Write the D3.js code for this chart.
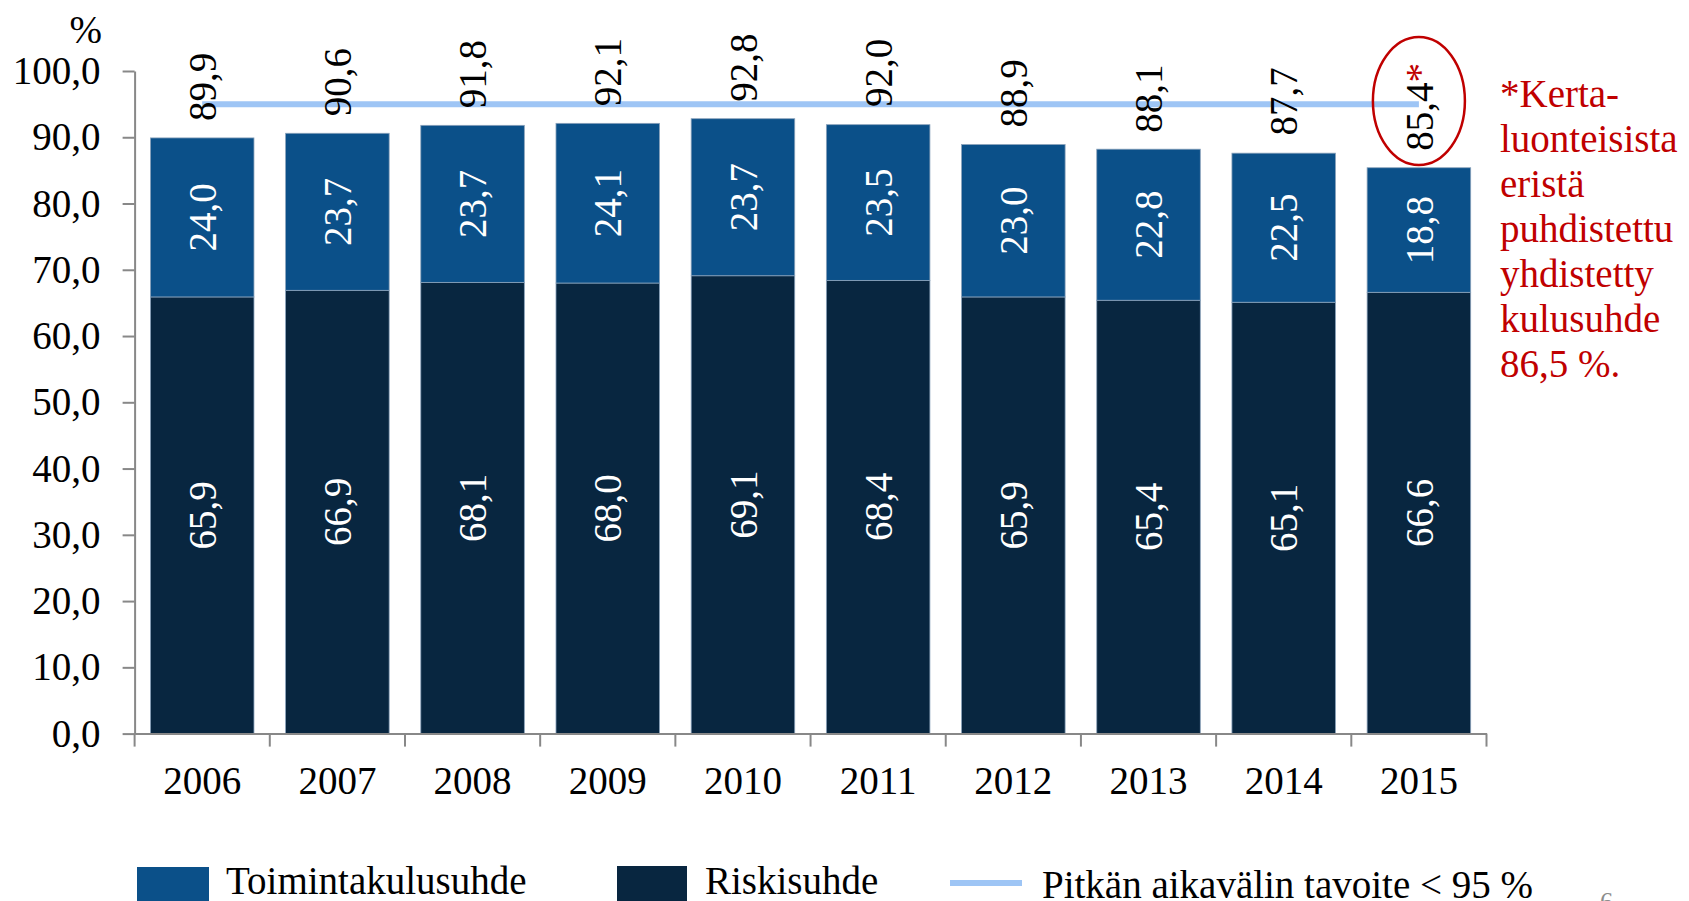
<!DOCTYPE html>
<html>
<head>
<meta charset="utf-8">
<script src="https://cdn.jsdelivr.net/npm/d3@7"></script>
<style>
    body { margin: 0; background: #fff; }
    text { font-family: "Liberation Serif", "DejaVu Serif", serif; }
</style>
</head>
<body>
<script>
// data
const years = ["2006", "2007", "2008", "2009", "2010", "2011", "2012", "2013", "2014", "2015"];
const riskisuhde = [65.9, 66.9, 68.1, 68.0, 69.1, 68.4, 65.9, 65.4, 65.1, 66.6];
const toimintakulusuhde = [24.0, 23.7, 23.7, 24.1, 23.7, 23.5, 23.0, 22.8, 22.5, 18.8];
const totals = [89.9, 90.6, 91.8, 92.1, 92.8, 92.0, 88.9, 88.1, 87.7, 85.4];
const target = 95;
const yTicks = [0, 10, 20, 30, 40, 50, 60, 70, 80, 90, 100];
const noteLines = ["*Kerta-", "luonteisista", "eristä", "puhdistettu", "yhdistetty", "kulusuhde", "86,5 %."];

const colors = {
    riski: "#082640",
    toiminta: "#0B5089",
    target: "#9EC5F5",
    red: "#C00000",
    axis: "#888888"
}

const width = 1689, height = 901;
const fontSize = 39;

const svg = d3.select("body").append("svg").attr("width", width).attr("height", height);

const x = d3.scaleBand().domain(years).range([134.6, 1486.5]).paddingInner(0.234).paddingOuter(0.117);
const y = d3.scaleLinear().domain([0, 100]).range([733.6, 71]);

const fmt = (v) => v.toFixed(1).replace(".", ",");

//stacked bars
const table = years.map((yr, i) => ({ year: yr, riski: riskisuhde[i], toiminta: toimintakulusuhde[i] }));
const stacked = d3.stack().keys(["riski", "toiminta"])(table);

const layers = svg.append("g").selectAll("g").data(stacked).enter().append("g")
    .attr("fill", (d) => colors[d.key]);

layers.selectAll("rect").data((d) => d).enter().append("rect")
    .attr("x", (d) => x(d.data.year))
    .attr("width", x.bandwidth())
    .attr("y", (d) => y(d[1]))
    .attr("height", (d) => y(d[0]) - y(d[1]))
    .attr("stroke", "#8aa2bb")
    .attr("stroke-width", 0.8);

//value labels in the segments
layers.selectAll("text").data((d) => d.map((p, i) => ({ p: p, v: d.key === "riski" ? riskisuhde[i] : toimintakulusuhde[i] })))
    .enter().append("text")
    .attr("transform", (d) => "translate(" + (x(d.p.data.year) + x.bandwidth() / 2) + "," + y((d.p[0] + d.p[1]) / 2) + ") rotate(-90)")
    .attr("text-anchor", "middle")
    .attr("dy", "0.35em")
    .attr("fill", "#fff")
    .style("font-size", fontSize + "px")
    .text((d) => fmt(d.v));

//y axis
const yAxis = d3.axisLeft(y).tickValues(yTicks).tickSize(12).tickSizeOuter(0).tickPadding(22).tickFormat(fmt);
const gy = svg.append("g").attr("transform", "translate(" + x.range()[0] + ",0)").call(yAxis);
gy.select(".domain").attr("stroke", colors.axis).attr("stroke-width", 2);
gy.selectAll(".tick line").attr("stroke", colors.axis).attr("stroke-width", 2);
gy.selectAll(".tick text").attr("fill", "#000").style("font-size", fontSize + "px").style("font-family", "Liberation Serif");

svg.append("text").attr("x", 102).attr("y", 43).attr("text-anchor", "end")
    .style("font-size", fontSize + "px").text("%");

//x axis, ticks between categories
const xAxis = d3.axisBottom(x).tickSize(0).tickSizeOuter(0);
const gx = svg.append("g").attr("transform", "translate(0," + y(0) + ")").call(xAxis);
gx.select(".domain").attr("stroke", colors.axis).attr("stroke-width", 2);
gx.selectAll(".tick text").attr("y", 60).attr("dy", 0).attr("fill", "#000")
    .style("font-size", fontSize + "px").style("font-family", "Liberation Serif");

const bounds = d3.range(years.length + 1).map((i) => x.range()[0] + i * x.step());
gx.selectAll(".sep").data(bounds).enter().append("line")
    .attr("class", "sep")
    .attr("x1", (d) => d).attr("x2", (d) => d)
    .attr("y1", 0).attr("y2", 13)
    .attr("stroke", colors.axis).attr("stroke-width", 2);

//target line
const cx = (yr) => x(yr) + x.bandwidth() / 2;
svg.append("line")
    .attr("x1", cx(years[0])).attr("x2", cx(years[years.length - 1]))
    .attr("y1", y(target)).attr("y2", y(target))
    .attr("stroke", colors.target).attr("stroke-width", 6);

//total labels above the bars
const tot = svg.append("g").selectAll("text").data(totals).enter().append("text")
    .attr("transform", (d, i) => "translate(" + cx(years[i]) + "," + (y(d) - 17) + ") rotate(-90)")
    .attr("dy", "0.35em")
    .style("font-size", fontSize + "px")
    .text((d) => fmt(d));
tot.filter((d, i) => i === years.length - 1).append("tspan").attr("fill", colors.red).text("*");

//circle round the 2015 total
svg.append("ellipse")
    .attr("cx", cx(years[years.length - 1])).attr("cy", 101)
    .attr("rx", 46).attr("ry", 64)
    .attr("fill", "none").attr("stroke", colors.red).attr("stroke-width", 2.5);

//note on the right
svg.append("text").attr("x", 1500).attr("y", 107)
    .attr("fill", colors.red).style("font-size", fontSize + "px")
    .selectAll("tspan").data(noteLines).enter().append("tspan")
    .attr("x", 1500).attr("dy", (d, i) => i === 0 ? 0 : 45)
    .text((d) => d);

//legend
const legend = svg.append("g");
legend.append("rect").attr("x", 137).attr("y", 867).attr("width", 72).attr("height", 40).attr("fill", colors.toiminta);
legend.append("text").attr("x", 226).attr("y", 894).style("font-size", fontSize + "px").text("Toimintakulusuhde");
legend.append("rect").attr("x", 617).attr("y", 866).attr("width", 70).attr("height", 40).attr("fill", colors.riski);
legend.append("text").attr("x", 705).attr("y", 894).style("font-size", fontSize + "px").text("Riskisuhde");
legend.append("line").attr("x1", 950).attr("x2", 1022).attr("y1", 883).attr("y2", 883)
    .attr("stroke", colors.target).attr("stroke-width", 6);
legend.append("text").attr("x", 1042).attr("y", 898).style("font-size", fontSize + "px").text("Pitkän aikavälin tavoite < 95 %");

//page number
svg.append("text").attr("x", 1600).attr("y", 910).attr("fill", "#8c8c8c").style("font-size", "26px").text("6");
</script>
</body>
</html>
